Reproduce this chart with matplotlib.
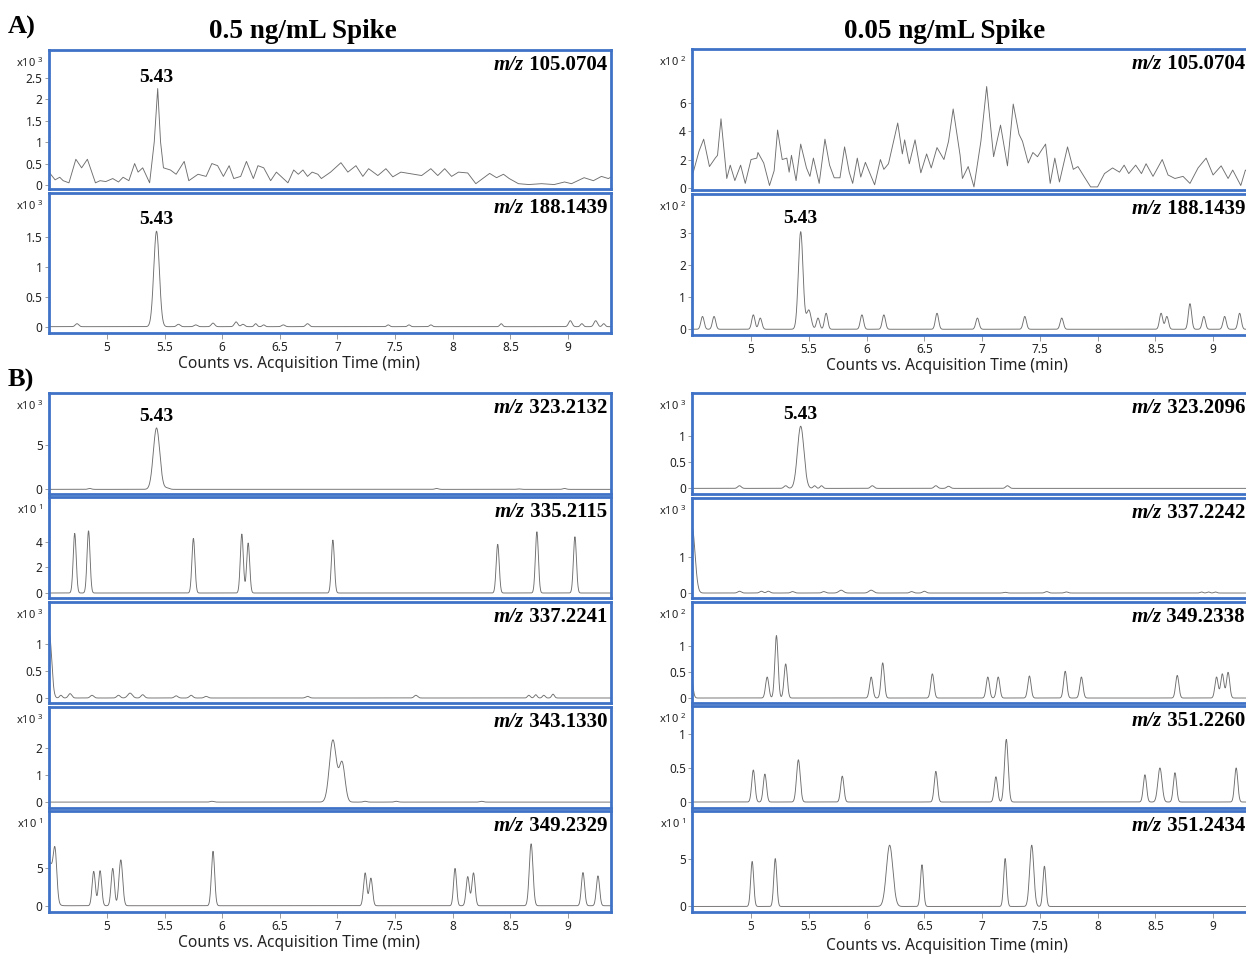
import numpy as np
import matplotlib
matplotlib.use('Agg')
from matplotlib import pyplot as plt
from matplotlib.ticker import FormatStrFormatter
from matplotlib.offsetbox import AnchoredOffsetbox, HPacker, TextArea

W, H = 1246, 956
BLUE = '#3F72C6'
TRACE = '#6e6e6e'
SERIF = 'Liberation Serif'
SANS = 'Noto Sans'

x_ticks = [5, 5.5, 6, 6.5, 7, 7.5, 8, 8.5, 9]

# noisy traces: (time, intensity)
a1_left_t = [4.50, 4.55, 4.59, 4.62, 4.67, 4.73, 4.78, 4.83, 4.90, 4.94, 4.99, 5.05, 5.10,
             5.14, 5.19, 5.24, 5.27, 5.31, 5.37, 5.41, 5.44, 5.465, 5.49, 5.55, 5.60, 5.67,
             5.71, 5.79, 5.86, 5.91, 5.96, 6.01, 6.06, 6.10, 6.16, 6.21, 6.27, 6.31, 6.36,
             6.42, 6.47, 6.53, 6.57, 6.62, 6.66, 6.70, 6.74, 6.78, 6.83, 6.86, 6.94, 7.03,
             7.09, 7.16, 7.22, 7.27, 7.35, 7.42, 7.48, 7.55, 7.64, 7.73, 7.81, 7.87, 7.93,
             7.99, 8.05, 8.13, 8.20, 8.27, 8.32, 8.38, 8.44, 8.49, 8.57, 8.66, 8.77, 8.88,
             8.97, 9.03, 9.14, 9.22, 9.29, 9.35, 9.37]
a1_left_v = [0.29, 0.12, 0.18, 0.10, 0.05, 0.60, 0.40, 0.60, 0.05, 0.10, 0.08, 0.15, 0.07,
             0.18, 0.10, 0.50, 0.30, 0.40, 0.05, 1.00, 2.25, 1.00, 0.40, 0.35, 0.25, 0.55,
             0.10, 0.25, 0.20, 0.50, 0.45, 0.20, 0.45, 0.15, 0.20, 0.55, 0.15, 0.45, 0.40,
             0.10, 0.30, 0.15, 0.05, 0.35, 0.25, 0.35, 0.20, 0.30, 0.25, 0.15, 0.30, 0.52,
             0.30, 0.45, 0.20, 0.38, 0.22, 0.38, 0.19, 0.30, 0.26, 0.22, 0.38, 0.22, 0.38,
             0.20, 0.30, 0.28, 0.03, 0.17, 0.27, 0.17, 0.25, 0.15, 0.03, 0.01, 0.03, 0.01,
             0.07, 0.03, 0.17, 0.10, 0.20, 0.15, 0.18]

a1_right_t = [4.50, 4.55, 4.59, 4.64, 4.69, 4.71, 4.74, 4.79, 4.82, 4.86, 4.91, 4.95, 5.00,
              5.05, 5.06, 5.11, 5.16, 5.20, 5.23, 5.27, 5.31, 5.33, 5.35, 5.39, 5.43, 5.48,
              5.51, 5.54, 5.59, 5.64, 5.68, 5.72, 5.77, 5.81, 5.85, 5.88, 5.92, 5.95, 5.99,
              6.04, 6.07, 6.12, 6.15, 6.19, 6.27, 6.31, 6.33, 6.37, 6.42, 6.47, 6.52, 6.56,
              6.61, 6.67, 6.71, 6.75, 6.81, 6.83, 6.88, 6.93, 6.99, 7.04, 7.10, 7.16, 7.22,
              7.27, 7.32, 7.35, 7.40, 7.44, 7.48, 7.51, 7.55, 7.59, 7.63, 7.67, 7.74, 7.79,
              7.83, 7.89, 7.94, 8.00, 8.06, 8.13, 8.19, 8.23, 8.27, 8.33, 8.38, 8.42, 8.48,
              8.56, 8.61, 8.67, 8.74, 8.80, 8.87, 8.94, 9.00, 9.07, 9.13, 9.17, 9.24, 9.28,
              9.33]
a1_right_v = [1.1, 2.6, 3.45, 1.5, 2.1, 2.3, 4.9, 0.65, 1.6, 0.5, 1.6, 0.3, 2.0,
              2.1, 2.5, 1.75, 0.15, 1.2, 4.1, 2.0, 2.1, 1.1, 2.3, 0.5, 3.1, 1.4,
              0.8, 2.1, 0.3, 3.45, 1.6, 0.7, 0.7, 2.9, 1.1, 0.3, 2.1, 0.75, 1.8,
              0.8, 0.2, 2.0, 1.3, 1.7, 4.6, 2.4, 3.4, 1.7, 3.4, 1.05, 2.4, 1.4,
              2.85, 2.0, 3.3, 5.6, 2.3, 0.65, 1.5, 0.05, 3.3, 7.2, 2.2, 4.45, 1.55,
              5.95, 3.8, 3.3, 1.75, 2.5, 2.2, 2.6, 3.1, 0.3, 2.1, 0.4, 2.9, 1.3,
              1.5, 0.7, 0.05, 0.05, 1.0, 1.4, 1.1, 1.6, 1.0, 1.6, 1.0, 1.7, 0.8,
              2.0, 0.9, 0.65, 0.8, 0.3, 1.4, 2.1, 0.9, 1.55, 0.65, 1.25, 0.15, 1.25,
              1.0]

# peak tables: (retention time, height, width sigma)
a2_left_peaks = [(4.74, 0.05, 0.015), (5.43, 1.6, 0.024), (5.62, 0.04, 0.015),
                 (5.77, 0.03, 0.015), (5.92, 0.06, 0.015), (6.12, 0.08, 0.015),
                 (6.18, 0.04, 0.015), (6.29, 0.05, 0.012), (6.36, 0.03, 0.012),
                 (6.53, 0.03, 0.015), (6.74, 0.05, 0.015), (7.44, 0.03, 0.012),
                 (7.62, 0.03, 0.012), (7.81, 0.03, 0.012), (8.42, 0.05, 0.012),
                 (9.02, 0.10, 0.015), (9.12, 0.05, 0.012), (9.24, 0.10, 0.015),
                 (9.31, 0.05, 0.012)]
a2_right_peaks = [(4.58, 0.4, 0.014), (4.68, 0.4, 0.014), (5.02, 0.45, 0.014),
                  (5.08, 0.35, 0.014), (5.43, 3.05, 0.02), (5.50, 0.6, 0.02),
                  (5.58, 0.35, 0.014), (5.65, 0.5, 0.014), (5.96, 0.45, 0.014),
                  (6.15, 0.45, 0.014), (6.61, 0.5, 0.014), (6.96, 0.35, 0.014),
                  (7.37, 0.4, 0.014), (7.69, 0.35, 0.014), (8.55, 0.5, 0.014),
                  (8.60, 0.4, 0.014), (8.80, 0.8, 0.014), (8.92, 0.4, 0.014),
                  (9.10, 0.4, 0.014), (9.23, 0.5, 0.014)]

b1_left_peaks = [(4.85, 0.1, 0.015), (5.43, 7.0, 0.028), (5.52, 0.15, 0.02),
                 (7.86, 0.1, 0.015), (8.57, 0.05, 0.015), (8.97, 0.1, 0.015)]
b2_left_peaks = [(4.72, 4.65, 0.013), (4.84, 4.85, 0.013), (5.75, 4.26, 0.013),
                 (6.17, 4.6, 0.013), (6.225, 3.9, 0.013), (6.96, 4.13, 0.013),
                 (8.39, 3.8, 0.013), (8.73, 4.78, 0.013), (9.06, 4.39, 0.013)]
b3_left_peaks = [(4.50, 1.18, 0.02), (4.60, 0.05, 0.012), (4.68, 0.08, 0.015),
                 (4.87, 0.05, 0.015), (5.10, 0.05, 0.015), (5.20, 0.09, 0.02),
                 (5.31, 0.06, 0.015), (5.60, 0.04, 0.015), (5.73, 0.05, 0.015),
                 (5.86, 0.03, 0.015), (6.74, 0.03, 0.015), (7.68, 0.05, 0.015),
                 (8.66, 0.05, 0.012), (8.72, 0.06, 0.012), (8.79, 0.05, 0.012),
                 (8.87, 0.07, 0.012)]
b4_left_peaks = [(5.91, 0.03, 0.015), (6.96, 2.31, 0.03), (7.04, 1.45, 0.025),
                 (7.24, 0.03, 0.015), (7.51, 0.03, 0.015), (8.25, 0.03, 0.015)]
b5_left_peaks = [(4.50, 5.8, 0.035), (4.55, 5.7, 0.015), (4.885, 4.6, 0.014),
                 (4.94, 4.7, 0.014), (5.05, 5.0, 0.014), (5.12, 6.15, 0.016),
                 (5.92, 7.3, 0.014), (7.24, 4.4, 0.014), (7.29, 3.7, 0.014),
                 (8.02, 5.0, 0.013), (8.13, 3.9, 0.014), (8.18, 4.4, 0.014),
                 (8.68, 8.3, 0.016), (9.13, 4.45, 0.014), (9.26, 4.0, 0.014)]

b1_right_peaks = [(4.90, 0.05, 0.015), (5.30, 0.05, 0.015), (5.43, 1.18, 0.028),
                  (5.55, 0.05, 0.012), (5.61, 0.05, 0.012), (6.05, 0.05, 0.015),
                  (6.60, 0.05, 0.015), (6.71, 0.04, 0.015), (7.22, 0.05, 0.015)]
b2_right_peaks = [(4.49, 1.85, 0.025), (4.90, 0.05, 0.015), (5.09, 0.05, 0.015),
                  (5.15, 0.05, 0.015), (5.36, 0.04, 0.015), (5.63, 0.04, 0.015),
                  (5.78, 0.08, 0.02), (6.04, 0.08, 0.02), (6.39, 0.04, 0.015),
                  (6.50, 0.05, 0.015), (7.20, 0.02, 0.015), (7.56, 0.04, 0.015),
                  (7.73, 0.03, 0.015), (8.90, 0.03, 0.012), (8.96, 0.03, 0.012),
                  (9.02, 0.03, 0.012)]
b3_right_peaks = [(4.48, 0.45, 0.015), (5.14, 0.4, 0.014), (5.22, 1.19, 0.014),
                  (5.30, 0.65, 0.014), (6.04, 0.4, 0.014), (6.14, 0.67, 0.014),
                  (6.57, 0.46, 0.014), (7.05, 0.4, 0.014), (7.14, 0.4, 0.014),
                  (7.41, 0.42, 0.014), (7.72, 0.51, 0.014), (7.86, 0.4, 0.014),
                  (8.69, 0.43, 0.014), (9.03, 0.4, 0.014), (9.08, 0.46, 0.014),
                  (9.13, 0.49, 0.014)]
b4_right_peaks = [(5.02, 0.47, 0.014), (5.12, 0.41, 0.014), (5.41, 0.62, 0.016),
                  (5.79, 0.38, 0.014), (6.60, 0.45, 0.014), (7.12, 0.37, 0.014),
                  (7.21, 0.92, 0.016), (8.41, 0.40, 0.014), (8.54, 0.50, 0.018),
                  (8.67, 0.43, 0.014), (9.20, 0.50, 0.014)]
b5_right_peaks = [(5.01, 4.7, 0.013), (5.21, 5.0, 0.013), (6.20, 6.4, 0.028),
                  (6.48, 4.35, 0.013), (7.20, 5.0, 0.013), (7.43, 6.4, 0.018),
                  (7.54, 4.2, 0.013)]

mz_left_a = ['105.0704', '188.1439']
mz_right_a = ['105.0704', '188.1439']
mz_left_b = ['323.2132', '335.2115', '337.2241', '343.1330', '349.2329']
mz_right_b = ['323.2096', '337.2242', '349.2338', '351.2260', '351.2434']


def peaks_trace(t, peaks):
    y = np.zeros_like(t)
    for rt, h, s in peaks:
        y += h * np.exp(-0.5 * ((t - rt) / s) ** 2)
    return y


def make_axes(left, top, bottom, width):
    return plt.gcf().add_axes([left / W, 1 - bottom / H, width / W, (bottom - top) / H])


def panel(left, top, bottom, width, xlim, data, ylim, yticks, exp, mz,
          rt_label=None, xaxis=False, mz_right=558):
    ax = make_axes(left, top, bottom, width)
    if isinstance(data, tuple):
        ax.plot(data[0], data[1], color=TRACE, lw=0.65)
    else:
        t = np.linspace(xlim[0], xlim[1], 3000)
        ax.plot(t, peaks_trace(t, data), color=TRACE, lw=0.65)
    ax.set_xlim(xlim)
    ax.set_ylim(ylim)
    ax.set_yticks(yticks)
    ax.yaxis.set_major_formatter(FormatStrFormatter('%g'))
    for s in ax.spines.values():
        s.set_color(BLUE)
        s.set_linewidth(2.0)
    ax.tick_params(axis='y', length=3, width=0.6, color='#8a8a8a', pad=1.5,
                   labelsize=8.5, labelcolor='#222222')
    for lab in ax.get_yticklabels():
        lab.set_fontfamily(SANS)
    if xaxis:
        ax.set_xticks(x_ticks)
        ax.xaxis.set_major_formatter(FormatStrFormatter('%g'))
        ax.tick_params(axis='x', length=4, width=0.6, color='#8a8a8a', pad=1.5,
                       labelsize=8.5, labelcolor='#222222')
        for lab in ax.get_xticklabels():
            lab.set_fontfamily(SANS)
    else:
        ax.set_xticks([])
    ax.annotate(r'x10$^{\mathregular{\ %d}}$' % exp, xy=(0, 1), xycoords='axes fraction',
                xytext=(-6, -13), textcoords='offset pixels', ha='right', va='center',
                fontsize=8, family=SANS, color='#222222')
    box = HPacker(children=[
        TextArea('m/z', textprops=dict(family=SERIF, weight='bold', style='italic', size=15)),
        TextArea(' ' + mz, textprops=dict(family=SERIF, weight='bold', size=15))],
        pad=0, sep=0, align='baseline')
    anchored = AnchoredOffsetbox(loc='upper right', child=box, pad=0, borderpad=0,
                                 frameon=False,
                                 bbox_to_anchor=(mz_right / width, 1 - 5 / (bottom - top)),
                                 bbox_transform=ax.transAxes)
    ax.add_artist(anchored)
    if rt_label is not None:
        ax.annotate('%.2f' % rt_label[0], xy=rt_label, xytext=(0, 3),
                    textcoords='offset pixels', ha='center', va='bottom',
                    family=SERIF, weight='bold', fontsize=14)
    return ax


fig = plt.figure(figsize=(W / 100, H / 100), dpi=100)

xl_left = (4.497, 9.373)
xl_right = (4.489, 9.363)
LX, LW = 49, 562
RX, RW = 692, 563
RMZ = 553

# section A
panel(LX, 50, 189, LW, xl_left, (a1_left_t, a1_left_v), (-0.094, 3.15),
      [0, 0.5, 1, 1.5, 2, 2.5], 3, mz_left_a[0], rt_label=(5.43, 2.25))
panel(LX, 193, 333, LW, xl_left, a2_left_peaks, (-0.106, 2.24),
      [0, 0.5, 1, 1.5], 3, mz_left_a[1], rt_label=(5.43, 1.6), xaxis=True)
panel(RX, 49, 190, RW, xl_right, (a1_right_t, a1_right_v), (-0.17, 9.87),
      [0, 2, 4, 6], 2, mz_right_a[0], mz_right=RMZ)
panel(RX, 194, 335, RW, xl_right, a2_right_peaks, (-0.18, 4.23),
      [0, 1, 2, 3], 2, mz_right_a[1], rt_label=(5.43, 3.1), xaxis=True, mz_right=RMZ)

# section B
left_b = [(393, 494, b1_left_peaks, (-0.53, 10.98), [0, 5], 3, (5.43, 7.0)),
          (497, 598, b2_left_peaks, (-0.39, 7.49), [0, 2, 4], 1, None),
          (602, 703, b3_left_peaks, (-0.092, 1.765), [0, 0.5, 1], 3, None),
          (707, 808, b4_left_peaks, (-0.22, 3.54), [0, 1, 2], 3, None),
          (811, 912, b5_left_peaks, (-0.84, 12.7), [0, 5], 1, None)]
right_b = [(393, 494, b1_right_peaks, (-0.107, 1.81), [0, 0.5, 1], 3, (5.43, 1.18)),
           (498, 598, b2_right_peaks, (-0.14, 2.67), [0, 1], 3, None),
           (602, 703, b3_right_peaks, (-0.095, 1.83), [0, 0.5, 1], 2, None),
           (706, 808, b4_right_peaks, (-0.088, 1.41), [0, 0.5, 1], 2, None),
           (811, 912, b5_right_peaks, (-0.58, 9.97), [0, 5], 1, None)]
for i, (top, bot, pk, yl, yt, ex, rl) in enumerate(left_b):
    panel(LX, top, bot, LW, xl_left, pk, yl, yt, ex, mz_left_b[i], rt_label=rl,
          xaxis=(i == len(left_b) - 1))
for i, (top, bot, pk, yl, yt, ex, rl) in enumerate(right_b):
    panel(RX, top, bot, RW, xl_right, pk, yl, yt, ex, mz_right_b[i], rt_label=rl,
          xaxis=(i == len(right_b) - 1), mz_right=RMZ)

xlabel = 'Counts vs. Acquisition Time (min)'
for x, y in [(LX + 250, 364), (RX + 255, 366), (LX + 250, 943), (RX + 255, 946)]:
    fig.text(x / W, 1 - y / H, xlabel, ha='center', va='center', fontsize=11.2,
             family=SANS, color='#222222')

fig.text(303 / W, 1 - 32 / H, '0.5 ng/mL Spike', ha='center', va='center',
         family=SERIF, weight='bold', fontsize=19.5)
fig.text(945 / W, 1 - 32 / H, '0.05 ng/mL Spike', ha='center', va='center',
         family=SERIF, weight='bold', fontsize=19.5)
fig.text(8 / W, 1 - 27 / H, 'A)', ha='left', va='center', family=SERIF,
         weight='bold', fontsize=19)
fig.text(8 / W, 1 - 380 / H, 'B)', ha='left', va='center', family=SERIF,
         weight='bold', fontsize=19)

plt.savefig('out.png', dpi=100)
